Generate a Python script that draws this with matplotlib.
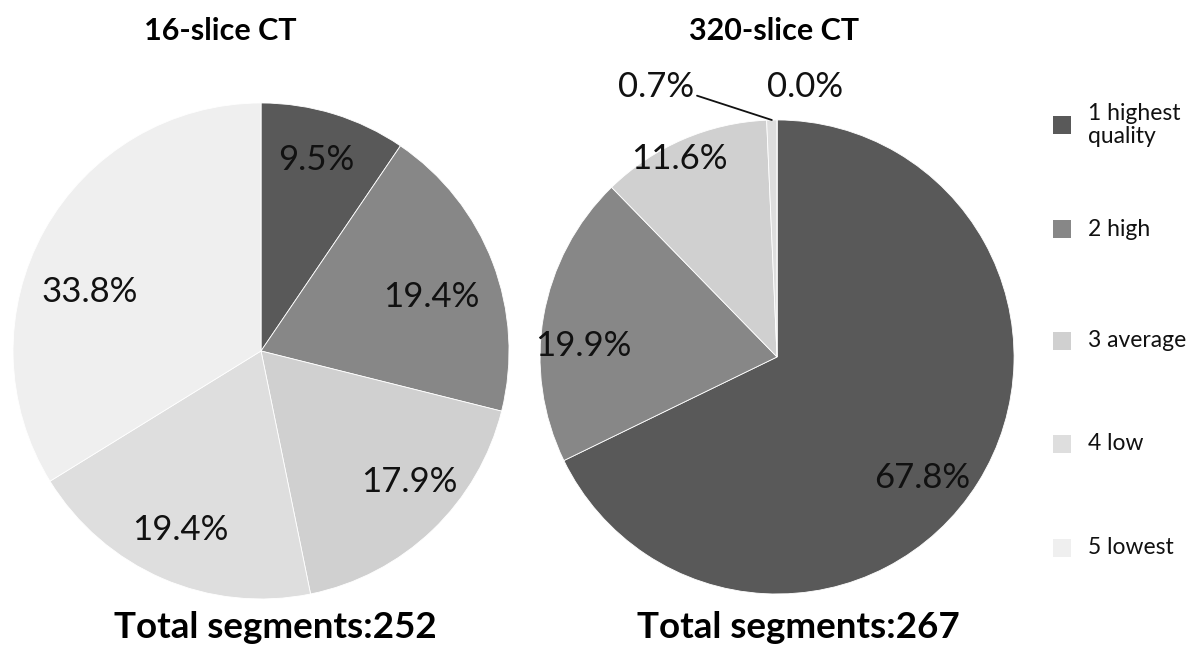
import numpy as np
import matplotlib
matplotlib.use("Agg")
import matplotlib.pyplot as plt
from matplotlib.patches import Rectangle

plt.rcParams['font.family'] = ['Lato', 'DejaVu Sans']

# Image-quality grades and the share of segments in each grade
categories = ["1 highest\nquality", "2 high", "3 average", "4 low", "5 lowest"]
share_16 = [9.5, 19.4, 17.9, 19.4, 33.8]
share_320 = [67.8, 19.9, 11.6, 0.7, 0.0]
titles = ["16-slice CT", "320-slice CT"]
totals = [252, 267]

colors = ["#595959", "#878787", "#d0d0d0", "#dedede", "#efefef"]

# label placement per slice: (radius fraction, angle shift in degrees)
place_16 = [(0.80, 1.0), (0.72, -3.4), (0.80, 4.8), (0.79, -0.9), (0.73, 10.0)]
place_320 = [(0.80, -7.8), (0.82, 6.7), (0.93, 2.8), None, None]

PCT_SIZE = 25
W, H = 1195, 658

fig = plt.figure(figsize=(W / 100, H / 100), dpi=100)
ax1 = fig.add_axes([0.01088, 0.0897, 0.4151, 0.7538])
ax2 = fig.add_axes([0.4519, 0.0973, 0.3967, 0.7204])


def draw_pie(ax, values, placements):
    wedges, _ = ax.pie(values, colors=colors, startangle=90, counterclock=False,
                       radius=1.0,
                       wedgeprops=dict(edgecolor="white", linewidth=0.6))
    ax.set_xlim(-1, 1)
    ax.set_ylim(-1, 1)
    ax.set_aspect("equal")
    ax.axis("off")
    for w, v, p in zip(wedges, values, placements):
        if p is None:
            continue
        r, da = p
        ang = np.deg2rad((w.theta1 + w.theta2) / 2 + da)
        ax.text(r * np.cos(ang), r * np.sin(ang), f"{v:.1f}%",
                ha="center", va="center", fontsize=PCT_SIZE, color="#111111")
    return wedges


draw_pie(ax1, share_16, place_16)
wedges2 = draw_pie(ax2, share_320, place_320)

# the two smallest slices of the 320-slice chart are labelled outside the circle
w_small = wedges2[3]
mid = np.deg2rad((w_small.theta1 + w_small.theta2) / 2)
ax2.annotate(f"{share_320[3]:.1f}%", xy=(np.cos(mid), np.sin(mid)),
             xytext=(-0.51, 1.14), ha="center", va="center", fontsize=PCT_SIZE,
             color="#111111", annotation_clip=False,
             arrowprops=dict(arrowstyle="-", color="#111111", lw=1.3,
                             shrinkA=0, shrinkB=0,
                             relpos=(1.0, 0.25)))
ax2.text(0.12, 1.14, f"{share_320[4]:.1f}%", ha="center", va="center",
         fontsize=PCT_SIZE, color="#111111", clip_on=False)

# titles and totals
fig.text(220 / W, 1 - 31 / H, titles[0], ha="center", va="center",
         fontsize=22, fontweight="bold")
fig.text(774 / W, 1 - 31 / H, titles[1], ha="center", va="center",
         fontsize=22, fontweight="bold")
fig.text(275 / W, 1 - 628 / H, f"Total segments:{totals[0]}",
         ha="center", va="center", fontsize=26.5, fontweight="bold")
fig.text(798 / W, 1 - 628 / H, f"Total segments:{totals[1]}",
         ha="center", va="center", fontsize=26.5, fontweight="bold")

# legend: one square key and label per grade, stacked down the right edge
key_rows = [125, 229, 341, 444, 548]
key_size = 18
for row, col, lab in zip(key_rows, colors, categories):
    fig.add_artist(Rectangle((1053 / W, 1 - (row + key_size / 2) / H),
                             key_size / W, key_size / H,
                             transform=fig.transFigure,
                             facecolor=col, edgecolor="none"))
    fig.text(1088 / W, 1 - row / H, lab, ha="left", va="center",
             fontsize=16.5, linespacing=1.15, color="#111111")

fig.savefig("out.png", dpi=100)
